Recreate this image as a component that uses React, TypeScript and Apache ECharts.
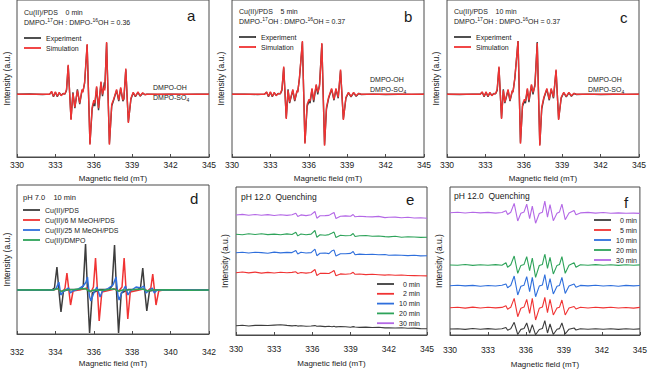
import React, { useEffect, useRef } from "react";
import * as echarts from "echarts";

const FONT = "'Liberation Sans', Arial, Helvetica, sans-serif";

// ---------- Panel a (Cu(II)/PDS 0 min) : [field mT, intensity a.u.] ----------
const expA: number[][] = [
  [330, 0], [331, 0.3], [332, -0.2], [332.55, 0.2], [332.7, 2.5], [332.85, -2.5], [333.0, 2], [333.15, -2.5],
  [333.3, 1.5], [333.45, -1], [333.6, 0.8], [333.75, 0.3], [333.87, 4], [334.0, 29], [334.22, -25], [334.37, 2],
  [334.52, -14], [334.72, 5], [334.9, -10], [335.08, 4], [335.15, 3], [335.28, 11], [335.48, 50], [335.7, -50],
  [335.87, -15], [336.0, -8], [336.08, -12], [336.22, 7], [336.37, -16], [336.56, 12], [336.68, -2], [336.82, 12],
  [336.86, 6], [337.0, 52], [337.22, -50], [337.4, -12], [337.55, -6], [337.78, 4], [337.95, -7], [338.1, 6],
  [338.27, -7], [338.35, -5], [338.5, 25], [338.7, -28], [338.9, -5], [339.08, 1.5], [339.25, -2.5], [339.45, 2],
  [339.62, -2], [339.82, 1], [340.0, -0.3], [340.15, 0.2], [341, -0.2], [342, 0.2], [343, -0.1], [344, 0.1], [345, 0],
];
const simA: number[][] = [
  [330, 0], [332.55, 0], [332.7, 3], [332.85, -2], [333.0, 2.5], [333.15, -2], [333.3, 2], [333.45, -1.5],
  [333.6, 0.5], [333.75, 0.5], [333.87, 5], [334.0, 30], [334.22, -26], [334.37, 1], [334.52, -13], [334.72, 4],
  [334.9, -9], [335.08, 5], [335.15, 2], [335.28, 12], [335.48, 51], [335.7, -51], [335.87, -13], [336.0, -6],
  [336.08, -9], [336.22, 8], [336.37, -14], [336.56, 13], [336.68, 0], [336.82, 8], [336.86, 4], [337.0, 53],
  [337.22, -51], [337.4, -10], [337.55, -5], [337.78, 5], [337.95, -6], [338.1, 7], [338.27, -6], [338.35, -4],
  [338.5, 26], [338.7, -29], [338.9, -4], [339.08, 2], [339.25, -2], [339.45, 2.5], [339.62, -1.5], [339.82, 1.5],
  [340.0, -0.5], [340.15, 0], [345, 0],
];

// ---------- Panel b (5 min) ----------
const expB: number[][] = [
  [330, 0], [331, 0.2], [332, -0.2], [332.55, 0.2], [332.7, 2], [332.85, -2.5], [333.0, 2], [333.15, -2.5],
  [333.3, 1.5], [333.45, -1], [333.6, 0.8], [333.78, 0.5], [333.9, 4], [334.04, 27], [334.24, -24], [334.38, 5],
  [334.5, -9], [334.75, 4], [334.9, -7], [335.08, 3], [335.14, 3], [335.27, 16], [335.5, 53], [335.7, -49],
  [335.87, -12], [336.02, -7], [336.1, -9], [336.25, 5], [336.38, -8], [336.58, 9], [336.7, 0], [336.84, 10],
  [337.02, 51], [337.23, -51], [337.38, -15], [337.55, -4], [337.78, 5], [337.97, -6], [338.12, 5], [338.3, -4],
  [338.48, 24], [338.7, -25], [338.9, -4], [339.1, 1.5], [339.3, -2.5], [339.5, 1.5], [339.7, -2], [339.9, 0.8],
  [340.1, -0.2], [341, 0.2], [342, -0.2], [343, 0.1], [344, -0.1], [345, 0],
];
const simB: number[][] = [
  [330, 0], [332.55, 0], [332.7, 2.5], [332.85, -2], [333.0, 2.5], [333.15, -2], [333.3, 2], [333.45, -1.5],
  [333.6, 0.5], [333.78, 0.8], [333.9, 5], [334.04, 28], [334.24, -25], [334.38, 4], [334.5, -8], [334.75, 5],
  [334.9, -6], [335.08, 4], [335.14, 2], [335.27, 17], [335.5, 54], [335.7, -50], [335.87, -10], [336.02, -5],
  [336.1, -7], [336.25, 6], [336.38, -6], [336.58, 10], [336.7, 2], [336.84, 8], [337.02, 52], [337.23, -52],
  [337.38, -13], [337.55, -3], [337.78, 6], [337.97, -5], [338.12, 6], [338.3, -3], [338.48, 25], [338.7, -26],
  [338.9, -3], [339.1, 2], [339.3, -2], [339.5, 2], [339.7, -1.5], [339.9, 1], [340.1, 0], [345, 0],
];

// ---------- Panel c (10 min) ----------
const expC: number[][] = [
  [330, 0], [331, -0.2], [332, 0.2], [332.6, 0.2], [332.75, 2], [332.9, -2.5], [333.05, 2], [333.2, -2.5],
  [333.35, 1.5], [333.5, -1], [333.65, 0.8], [333.8, 0.5], [333.92, 4], [334.06, 27], [334.26, -24], [334.4, 5],
  [334.52, -9], [334.77, 4], [334.92, -7], [335.1, 3], [335.16, 3], [335.3, 16], [335.55, 54], [335.74, -49],
  [335.9, -12], [336.05, -7], [336.13, -9], [336.28, 5], [336.4, -8], [336.6, 9], [336.72, 0], [336.87, 10],
  [337.05, 53], [337.25, -51], [337.4, -15], [337.57, -4], [337.8, 5], [337.99, -6], [338.14, 5], [338.32, -4],
  [338.52, 24], [338.72, -25], [338.92, -4], [339.12, 1.5], [339.32, -2.5], [339.52, 1.5], [339.72, -2], [339.92, 0.8],
  [340.12, -0.2], [341, 0.2], [342, -0.2], [343, 0.1], [344, -0.1], [345, 0],
];
const simC: number[][] = [
  [330, 0], [332.6, 0], [332.75, 2.5], [332.9, -2], [333.05, 2.5], [333.2, -2], [333.35, 2], [333.5, -1.5],
  [333.65, 0.5], [333.8, 0.8], [333.92, 5], [334.06, 28], [334.26, -25], [334.4, 4], [334.52, -8], [334.77, 5],
  [334.92, -6], [335.1, 4], [335.16, 2], [335.3, 17], [335.55, 54], [335.74, -50], [335.9, -10], [336.05, -5],
  [336.13, -7], [336.28, 6], [336.4, -6], [336.6, 10], [336.72, 2], [336.87, 8], [337.05, 52], [337.25, -52],
  [337.4, -13], [337.57, -3], [337.8, 6], [337.99, -5], [338.14, 6], [338.32, -3], [338.52, 25], [338.72, -26],
  [338.92, -3], [339.12, 2], [339.32, -2], [339.52, 2], [339.72, -1.5], [339.92, 1], [340.12, 0], [345, 0],
];

// ---------- Panel d (pH 7.0, 10 min) ----------
const dPDS: number[][] = [
  [332, 0], [333.8, 0], [333.95, 2], [334.08, 23], [334.18, 0], [334.29, -22], [334.42, -1], [334.7, 0.5],
  [335.3, 0.5], [335.45, 4], [335.57, 46], [335.67, 0], [335.78, -43], [335.92, -3], [336.3, 0.5], [336.8, 0.5],
  [336.95, 4], [337.08, 45], [337.18, 0], [337.29, -43], [337.43, -3], [337.8, 0.5], [338.3, 0.5], [338.43, 2],
  [338.55, 22], [338.65, 0], [338.76, -21], [338.9, -1], [339.2, 0], [342, 0],
];
const dMeOH6: number[][] = [
  [332, 0], [333.9, 0], [334.1, 1.5], [334.3, -1.5], [334.45, 0], [334.5, 2], [334.6, 17], [334.7, 0],
  [334.79, -15], [334.92, -1], [335.5, 1], [335.65, 2], [335.85, -2], [335.98, 3], [336.09, 32], [336.19, 0],
  [336.28, -31], [336.42, -2], [337.1, 1], [337.3, -1], [337.47, 3], [337.58, 32], [337.68, 0], [337.77, -29],
  [337.9, -2], [338.6, 1], [338.8, -1], [338.97, 2], [339.07, 16], [339.16, 0], [339.24, -15], [339.38, -1],
  [339.6, 0], [342, 0],
];
const dMeOH25: number[][] = [
  [332, 0], [333.9, 0], [334.05, 2], [334.18, 8], [334.28, -5], [334.4, -2], [334.6, 1], [334.69, 2],
  [334.78, -3], [334.9, -1], [335.2, 1], [335.45, 4], [335.6, 8], [335.67, 13], [335.77, -6], [335.85, -11],
  [336.0, -3], [336.16, 3], [336.33, -7], [336.45, -1], [336.7, 1], [337.0, 5], [337.16, 13], [337.26, -6],
  [337.32, -10], [337.45, -3], [337.65, 4], [337.78, -5], [337.9, -1], [338.2, 3], [338.45, 2], [338.6, 4],
  [338.72, -3], [338.85, -1], [339.05, 2], [339.15, -3], [339.3, 0], [342, 0],
];
const dDMPO: number[][] = [
  [332, 0], [333.0, 0.3], [333.9, 0], [334.1, 1.5], [334.3, -1.5], [334.5, 0], [335.0, 0.4], [335.55, 1.5],
  [335.8, -1.5], [336.0, 0], [336.5, -0.3], [337.05, 1.2], [337.3, -1.2], [337.5, 0], [338.0, 0.3], [338.55, 1],
  [338.8, -1], [339.0, 0], [340.0, 0.2], [341.0, -0.2], [342, 0],
];

// ---------- Panel e (pH 12.0 quenching) ----------
const eField = [
  330, 330.5, 331, 331.5, 332, 332.5, 333, 333.5, 334, 334.4, 334.7, 334.85, 335.1, 335.5, 335.9, 336.2,
  336.35, 336.6, 337, 337.3, 337.55, 337.7, 337.85, 338.2, 338.6, 339, 339.2, 339.35, 339.7, 340.2, 340.7,
  341.2, 341.7, 342, 342.5, 343, 343.5, 344, 344.5, 345,
];
const eNames = ["0 min", "2 min", "10 min", "20 min", "30 min"];
const eOffsets = [9.3, 62.3, 82.3, 100.7, 120];
const e0: number[] = [0, 0.4, -0.3, 0.3, 0.5, 0.2, 0.6, 1.0, 0.3, -0.2, 0.2, -0.4, -0.1, -0.5, -0.3, 0.1, -0.6, -0.4, -0.9, -0.6, -1.0, -0.5, -1.2, -0.8, -1.1, -1.5, -0.9, -1.3, -1.7, -1.4, -1.8, -1.6, -2.2, -2.0, -2.3, -2.1, -2.6, -2.4, -2.9, -3.1];
const e2: number[] = [0, 0.7, -0.2, 0.6, -0.4, 0.3, -0.3, 0.5, -0.1, 0.3, 0.9, -0.8, 0.2, -0.4, 0.2, 3.2, -2.8, -0.7, -0.5, -0.8, 1.0, 2.2, -3.0, -1.2, -1.5, -1.0, 0.4, -1.6, -1.3, -1.9, -1.6, -2.0, -2.4, -2.1, -2.5, -2.3, -2.8, -2.9, -3.0, -3.2];
const e10: number[] = [0, 0.5, -0.3, 0.4, 0.1, -0.5, 0.6, -0.2, 0.3, 0.1, 2.2, -1.4, 0.4, -0.3, 0.1, 3.6, -3.0, -0.6, -0.3, -0.9, 2.0, 2.6, -3.4, -1.1, -1.0, -0.7, 1.2, -2.0, -1.4, -1.8, -1.5, -2.1, -1.8, -2.5, -2.3, -2.6, -2.9, -2.6, -3.2, -3.1];
const e20: number[] = [0, -0.4, 0.5, -0.2, 0.6, -0.3, 0.2, -0.5, 0.4, -0.2, 2.0, -1.6, 0.3, -0.5, 0.2, 3.8, -3.0, -0.5, -0.9, -0.3, 1.2, 2.2, -3.2, -1.0, -1.4, -1.2, 0.8, -2.2, -1.5, -1.2, -2.0, -1.7, -2.3, -2.6, -2.0, -2.9, -2.5, -2.7, -3.1, -3.0];
const e30: number[] = [0, 0.6, -0.3, 0.5, -0.2, 0.4, -0.5, 0.3, -0.4, 0.2, 1.8, -1.5, 0.1, -0.6, 0.3, 3.5, -3.2, -0.8, -0.6, -0.4, 1.5, 2.5, -3.5, -1.2, -0.9, -1.3, 0.5, -1.8, -1.2, -1.6, -1.9, -1.4, -2.6, -2.2, -2.1, -2.7, -2.3, -3.0, -2.8, -3.3];

// ---------- Panel f (pH 12.0 quenching) ----------
const fField = [
  330, 330.6, 331.2, 331.8, 332.4, 333, 333.6, 334.1, 334.42, 334.55, 334.8, 335.07, 335.35, 335.6, 335.85,
  336.06, 336.29, 336.5, 336.76, 337.05, 337.3, 337.49, 337.7, 337.9, 338.16, 338.45, 338.65, 338.84, 339.1,
  339.4, 339.8, 339.95, 340.3, 340.9, 341.5, 342.1, 342.7, 343.3, 343.9, 344.5, 345,
];
const fNames = ["0 min", "5 min", "10 min", "20 min", "30 min"];
const fOffsets = [6, 27.3, 49.3, 70, 122.3];
const f0: number[] = [0, 0.3, -0.4, 0.5, -0.2, 0.4, -0.3, 0.2, 1.5, -1.2, 0.3, 6.7, -5.5, -0.4, 0.5, 6.0, -4.0, 4.3, -5.8, -0.5, 0.5, 8.3, -4.0, 5.0, -5.5, -0.3, 0.4, 6.0, -5.0, -0.2, 1.0, -1.0, 0.3, -0.2, 0.3, -0.3, 0.2, -0.4, 0.3, -0.2, 0.1];
const f5: number[] = [0, 0.5, -0.4, 0.6, -0.3, 0.4, -0.2, 0.3, 2.0, -1.5, 0.5, 9.3, -9.0, -0.5, 0.6, 8.3, -5.7, 9.3, -12.3, -0.6, 0.7, 10.3, -5.0, 8.3, -7.3, -0.4, 0.5, 7.7, -7.3, -0.3, 1.2, -1.3, 0.4, -0.3, 0.5, -0.2, 0.4, -0.3, 0.2, -0.4, 0.3];
const f10: number[] = [0, 0.4, -0.2, 0.3, -0.5, 0.2, -0.3, 0.5, 1.8, -2.0, 0.2, 9.7, -9.3, -0.6, 0.5, 9.0, -6.0, 8.3, -11.0, -0.4, 0.8, 11.0, -4.3, 7.0, -8.3, -0.5, 0.3, 8.3, -7.7, -0.3, 1.8, -1.5, 0.3, -0.2, 0.4, -0.3, 0.2, -0.5, 0.3, -0.2, 0.2];
const f20: number[] = [0, -0.3, 0.5, -0.4, 0.3, -0.2, 0.4, -0.3, 2.3, -2.3, 0.3, 9.0, -8.3, -0.4, 0.6, 8.3, -5.7, 7.0, -12.3, -0.5, 0.6, 11.0, -3.3, 7.7, -9.0, -0.4, 0.5, 8.3, -8.3, -0.2, 2.3, -2.3, 0.2, -0.3, 0.4, -0.2, 0.3, -0.4, 0.2, -0.3, 0.1];
const f30: number[] = [0, 0.4, -0.3, 0.5, -0.2, 0.3, -0.4, 0.2, 2.0, -1.8, 0.5, 9.3, -8.3, -0.5, 0.8, 8.5, -6.0, 6.5, -10.5, -0.8, 0.5, 11.5, -4.5, 8.0, -8.0, -0.6, 0.8, 8.5, -7.0, -0.3, 2.2, -2.0, -0.2, 0.3, -0.4, 0.2, -0.5, -0.2, -0.6, -0.4, -0.7];

const COL = {
  black: "#3d3d3d",
  red: "#f03333",
  blue: "#2f6fdc",
  green: "#2ea35a",
  purple: "#b468e6",
};
const timeColors = [COL.black, COL.red, COL.blue, COL.green, COL.purple];

function lineSeries(name: string, data: number[][], idx: number, color: string, width: number) {
  return {
    type: "line",
    name,
    data,
    xAxisIndex: idx,
    yAxisIndex: idx,
    symbol: "none",
    showSymbol: false,
    silent: true,
    lineStyle: { color, width },
    itemStyle: { color },
  };
}

function stacked(field: number[], vals: number[], off: number): number[][] {
  return field.map((x, i) => [x, off + vals[i]]);
}

const txt = (x: number, y: number, text: string, size = 7, extra: any = {}) => ({
  type: "text",
  x,
  y,
  silent: true,
  style: {
    text,
    fontSize: size,
    fontFamily: FONT,
    fill: "#1a1a1a",
    align: "left",
    verticalAlign: "middle",
    ...extra,
  },
});

const supRich = {
  n: { fontSize: 7, fontFamily: FONT, fill: "#1a1a1a", lineHeight: 10, verticalAlign: "middle" },
  s: { fontSize: 5, fontFamily: FONT, fill: "#1a1a1a", lineHeight: 10, verticalAlign: "top" },
};
const subRich = {
  n: { fontSize: 7, fontFamily: FONT, fill: "#1a1a1a", lineHeight: 10, verticalAlign: "middle" },
  s: { fontSize: 5, fontFamily: FONT, fill: "#1a1a1a", lineHeight: 10, verticalAlign: "bottom" },
};
const ratioText = (r: string) => `{n|DMPO-}{s|17}{n|OH : DMPO-}{s|16}{n|OH = ${r}}`;
const so4Text = "{n|DMPO-SO}{s|4}";

export default function App() {
  const ref = useRef<HTMLDivElement>(null);
  useEffect(() => {
    if (!ref.current) return;
    const chart = echarts.init(ref.current, undefined, { renderer: "svg" });

    const grids = [
      { left: 17, top: -2, width: 192, height: 159 },
      { left: 232, top: -2, width: 192, height: 159 },
      { left: 447, top: -2, width: 192, height: 159 },
      { left: 17, top: 185, width: 192, height: 149 },
      { left: 236, top: 187, width: 191, height: 148 },
      { left: 450, top: 187, width: 192, height: 148 },
    ];
    const xCfg = [
      { min: 330, max: 345, interval: 3, margin: 3, gap: 17 },
      { min: 330, max: 345, interval: 3, margin: 3, gap: 17 },
      { min: 330, max: 345, interval: 3, margin: 3, gap: 17 },
      { min: 332, max: 342, interval: 2, margin: 13, gap: 25 },
      { min: 330, max: 345, interval: 3, margin: 9, gap: 24 },
      { min: 330, max: 345, interval: 3, margin: 10, gap: 25 },
    ];
    const yCfg = [
      { min: -63.5, max: 95.5, gap: 5.5 },
      { min: -63.5, max: 95.5, gap: 6.5 },
      { min: -63.5, max: 95.5, gap: 6.5 },
      { min: -44, max: 105, gap: 5.5 },
      { min: 0, max: 148, gap: 6.5 },
      { min: 0, max: 148, gap: 6.5 },
    ];

    const legendBase = {
      orient: "vertical",
      icon: "rect",
      itemWidth: 17,
      itemHeight: 1.8,
      itemGap: 0,
      padding: 0,
      selectedMode: false,
      textStyle: { fontSize: 7, lineHeight: 10, color: "#1a1a1a", fontFamily: FONT },
    };
    const padName = (n: string) => (n.length < 6 ? "\u2007" + n : n);

    const series: any[] = [
      lineSeries("Experiment", expA, 0, COL.black, 1.4),
      lineSeries("Simulation", simA, 0, COL.red, 1.4),
      lineSeries("Experiment", expB, 1, COL.black, 1.4),
      lineSeries("Simulation", simB, 1, COL.red, 1.4),
      lineSeries("Experiment", expC, 2, COL.black, 1.4),
      lineSeries("Simulation", simC, 2, COL.red, 1.4),
      lineSeries("Cu(II)/PDS", dPDS, 3, COL.black, 1.5),
      lineSeries("Cu(II)/6 M MeOH/PDS", dMeOH6, 3, COL.red, 1.5),
      lineSeries("Cu(II)/25 M MeOH/PDS", dMeOH25, 3, COL.blue, 1.5),
      lineSeries("Cu(II)/DMPO", dDMPO, 3, COL.green, 1.5),
    ];
    const eVals = [e0, e2, e10, e20, e30];
    eVals.forEach((v, i) => series.push(lineSeries(eNames[i], stacked(eField, v, eOffsets[i]), 4, timeColors[i], 1.1)));
    const fVals = [f0, f5, f10, f20, f30];
    fVals.forEach((v, i) => series.push(lineSeries(fNames[i], stacked(fField, v, fOffsets[i]), 5, timeColors[i], 1.1)));

    const option: any = {
      animation: false,
      textStyle: { fontFamily: FONT },
      grid: grids.map((g) => ({ ...g, show: true, borderColor: "#4a4a4a", borderWidth: 1 })),
      xAxis: xCfg.map((c, i) => ({
        gridIndex: i,
        type: "value",
        min: c.min,
        max: c.max,
        interval: c.interval,
        axisLine: { show: true, onZero: false, lineStyle: { color: "#4a4a4a", width: 1 } },
        axisTick: { show: true, inside: true, length: 3, lineStyle: { color: "#4a4a4a" } },
        axisLabel: { fontSize: 8.5, color: "#1a1a1a", margin: c.margin, fontFamily: FONT },
        splitLine: { show: false },
        name: "Magnetic field (mT)",
        nameLocation: "middle",
        nameGap: c.gap,
        nameTextStyle: { fontSize: 8, color: "#1a1a1a", fontFamily: FONT },
      })),
      yAxis: yCfg.map((c, i) => ({
        gridIndex: i,
        type: "value",
        min: c.min,
        max: c.max,
        axisLine: { show: false },
        axisTick: { show: false },
        axisLabel: { show: false },
        splitLine: { show: false },
        name: "Intensity (a.u.)",
        nameLocation: "middle",
        nameGap: c.gap,
        nameTextStyle: { fontSize: 8.5, color: "#1a1a1a", fontFamily: FONT },
      })),
      legend: [
        { ...legendBase, left: 24, top: 33, data: ["Experiment", "Simulation"] },
        { ...legendBase, left: 239, top: 32, data: ["Experiment", "Simulation"] },
        { ...legendBase, left: 454, top: 32, data: ["Experiment", "Simulation"] },
        {
          ...legendBase,
          left: 23,
          top: 205,
          data: ["Cu(II)/PDS", "Cu(II)/6 M MeOH/PDS", "Cu(II)/25 M MeOH/PDS", "Cu(II)/DMPO"],
        },
        { ...legendBase, left: 377, top: 279, itemGap: -0.2, formatter: padName, data: eNames },
        { ...legendBase, left: 594, top: 215, formatter: padName, data: fNames },
      ],
      series,
      graphic: [
        txt(24, 12, "Cu(II)/PDS\u00a0\u00a0\u00a0\u00a00 min"),
        txt(24, 22, ratioText("0.36"), 7, { rich: supRich }),
        txt(153, 87, "DMPO-OH"),
        txt(153, 97, so4Text, 7, { rich: subRich }),
        txt(187, 15, "a", 15),

        txt(239, 11.5, "Cu(II)/PDS\u00a0\u00a0\u00a0\u00a05 min"),
        txt(239, 21, ratioText("0.37"), 7, { rich: supRich }),
        txt(370, 79, "DMPO-OH"),
        txt(370, 89, so4Text, 7, { rich: subRich }),
        txt(404, 16, "b", 15),

        txt(454, 11.5, "Cu(II)/PDS\u00a0\u00a0\u00a0\u00a010 min"),
        txt(454, 21, ratioText("0.37"), 7, { rich: supRich }),
        txt(588, 79, "DMPO-OH"),
        txt(588, 89, so4Text, 7, { rich: subRich }),
        txt(620, 17, "c", 15),

        txt(23, 197, "pH 7.0\u00a0\u00a0\u00a0\u00a010 min", 7.5),
        txt(190, 198, "d", 15),

        txt(241, 196.5, "pH 12.0\u00a0\u00a0Quenching", 8.5),
        txt(406, 199, "e", 15),

        txt(454, 195.5, "pH 12.0\u00a0\u00a0Quenching", 8.5),
        txt(624, 202, "f", 15),
      ],
    };
    chart.setOption(option);
    return () => chart.dispose();
  }, []);

  return (
    <div
      ref={ref}
      style={{ position: "fixed", left: 0, top: 0, width: 650, height: 371, background: "#ffffff" }}
    />
  );
}
